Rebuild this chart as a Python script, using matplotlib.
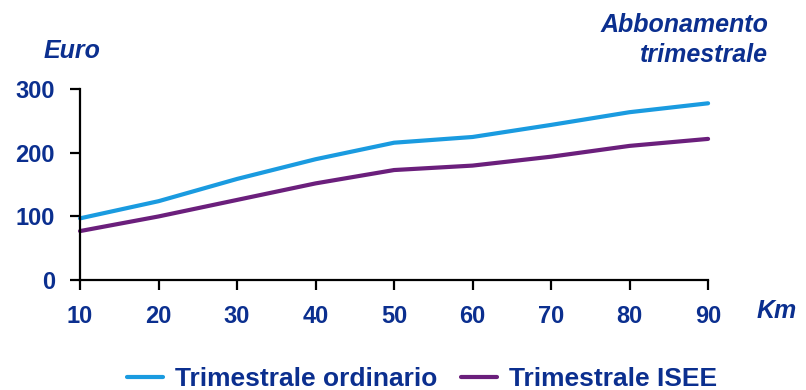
import matplotlib
matplotlib.use("Agg")
import matplotlib.pyplot as plt

km = [10, 20, 30, 40, 50, 60, 70, 80, 90]
ordinario = [97, 124, 159, 190, 216, 225, 244, 264, 278]
isee = [77, 100, 126, 152, 173, 180, 194, 211, 222]
y_ticks = [0, 100, 200, 300]

navy = "#0b2f8f"
blue = "#1a9be0"
purple = "#6b1f7c"

plt.rcParams["font.family"] = ["Liberation Sans", "DejaVu Sans"]

fig = plt.figure(figsize=(8.06, 3.9), dpi=100)
ax = fig.add_axes([0.0993, 0.282, 0.7792, 0.489])

ax.plot(km, ordinario, color=blue, lw=3.0, solid_joinstyle="round", solid_capstyle="round",
        label="Trimestrale ordinario", clip_on=False)
ax.plot(km, isee, color=purple, lw=3.0, solid_joinstyle="round", solid_capstyle="round",
        label="Trimestrale ISEE", clip_on=False)

ax.set_xlim(10, 90)
ax.set_ylim(0, 300)
ax.set_xticks(km)
ax.set_yticks(y_ticks)
for s in ["top", "right"]:
    ax.spines[s].set_visible(False)
for s in ["left", "bottom"]:
    ax.spines[s].set_linewidth(1.6)
    ax.spines[s].set_color("black")
ax.tick_params(axis="both", direction="out", length=7, width=1.6, color="black",
               labelsize=17, labelcolor=navy)
ax.tick_params(axis="y", pad=11)
ax.tick_params(axis="x", pad=11)
for lab in ax.get_xticklabels() + ax.get_yticklabels():
    lab.set_fontweight("bold")

title_kw = dict(color=navy, fontsize=18, fontweight="bold", fontstyle="italic", va="baseline")
fig.text(0.054, 0.851, "Euro", ha="left", **title_kw)
fig.text(0.953, 0.918, "Abbonamento", ha="right", **title_kw)
fig.text(0.953, 0.841, "trimestrale", ha="right", **title_kw)
fig.text(0.939, 0.185, "Km", ha="left", **title_kw)

leg = fig.legend(loc="center", bbox_to_anchor=(0.524, 0.027), ncol=2, frameon=False,
                 prop={"size": 19, "weight": "bold"}, handlelength=1.37,
                 columnspacing=0.9, handletextpad=0.45, borderpad=0, borderaxespad=0)
for t in leg.get_texts():
    t.set_color(navy)

fig.savefig("out.png", dpi=100)
